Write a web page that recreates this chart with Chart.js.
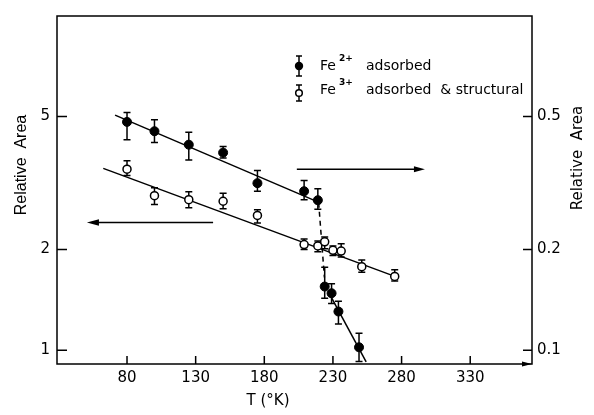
<!DOCTYPE html>
<html><head><meta charset="utf-8">
<script src="https://cdn.jsdelivr.net/npm/chart.js@4.4.1/dist/chart.umd.min.js"></script>
<style>html,body{margin:0;padding:0;background:#fff}</style>
</head><body>
<canvas id="c" width="594" height="415"></canvas>
<script>
// ---- tick labels ----
const xTicks = [80, 130, 180, 230, 280, 330];
const leftTicks = [1, 2, 5];
const leftTickLabels = ['1', '2', '5'];
const rightTicks = [0.1, 0.2, 0.5];
const rightTickLabels = ['0.1', '0.2', '0.5'];

// ---- Fe2+ adsorbed (right axis) ----
const fe2T    = [80, 100, 125, 150, 175, 209, 219, 224, 229, 234, 249];
const fe2Area = [0.482, 0.452, 0.412, 0.390, 0.316, 0.299, 0.281, 0.155, 0.148, 0.1305, 0.102];
const fe2High = [0.514, 0.489, 0.449, 0.407, 0.345, 0.322, 0.304, 0.177, 0.158, 0.140, 0.1124];
const fe2Low  = [0.426, 0.418, 0.371, 0.376, 0.299, 0.282, 0.264, 0.143, 0.138, 0.1198, 0.0924];

// ---- Fe3+ adsorbed & structural (left axis) ----
const fe3T    = [80, 100, 125, 150, 175, 209, 219, 224, 230, 236, 251, 275];
const fe3Area = [3.48, 2.90, 2.82, 2.79, 2.53, 2.07, 2.05, 2.11, 1.99, 1.98, 1.778, 1.662];
const fe3High = [3.69, 3.06, 2.98, 2.95, 2.63, 2.15, 2.12, 2.18, 2.05, 2.08, 1.86, 1.74];
const fe3Low  = [3.33, 2.73, 2.67, 2.65, 2.40, 2.00, 1.97, 2.01, 1.92, 1.90, 1.71, 1.61];

// ---- fitted lines ----
const fe2FitUpperT = [71.3, 220.7];
const fe2FitUpperV = [0.505, 0.276];
const fe2DashT = [219.6, 223.8];
const fe2DashV = [0.276, 0.165];
const fe2FitLowerT = [226.5, 254.2];
const fe2FitLowerV = [0.150, 0.0922];
const fe3FitT = [62.7, 276.6];
const fe3FitV = [3.50, 1.654];

const pts = (ts, vs) => ts.map((t, i) => ({x: t, y: vs[i]}));
const FONT = "'DejaVu Sans', sans-serif";

const overlay = {
  id: 'overlay',
  beforeDatasetsDraw(chart) {
    const ctx = chart.ctx, xs = chart.scales.x, yL = chart.scales.y, yR = chart.scales.yR;
    ctx.save();
    ctx.strokeStyle = '#000'; ctx.lineWidth = 1.5;
    const bar = (t, lo, hi, ys) => {
      const px = xs.getPixelForValue(t), p1 = ys.getPixelForValue(lo), p2 = ys.getPixelForValue(hi);
      ctx.beginPath();
      ctx.moveTo(px, p1); ctx.lineTo(px, p2);
      ctx.moveTo(px - 3.5, p1); ctx.lineTo(px + 3.5, p1);
      ctx.moveTo(px - 3.5, p2); ctx.lineTo(px + 3.5, p2);
      ctx.stroke();
    };
    fe2T.forEach((t, i) => bar(t, fe2Low[i], fe2High[i], yR));
    fe3T.forEach((t, i) => bar(t, fe3Low[i], fe3High[i], yL));
    ctx.restore();
  },
  afterDraw(chart) {
    const ctx = chart.ctx, a = chart.chartArea;
    const xs = chart.scales.x, yL = chart.scales.y, yR = chart.scales.yR;
    ctx.save();
    ctx.strokeStyle = '#000'; ctx.fillStyle = '#000'; ctx.lineWidth = 1.5;
    // frame
    ctx.strokeRect(a.left, a.top, a.right - a.left, a.bottom - a.top);
    // inward ticks
    ctx.beginPath();
    xTicks.forEach(v => { const p = xs.getPixelForValue(v); ctx.moveTo(p, a.bottom); ctx.lineTo(p, a.bottom - 8); });
    leftTicks.forEach(v => { const p = yL.getPixelForValue(v); ctx.moveTo(a.left, p); ctx.lineTo(a.left + 10, p); });
    rightTicks.forEach(v => { const p = yR.getPixelForValue(v); ctx.moveTo(a.right, p); ctx.lineTo(a.right - 9, p); });
    ctx.stroke();
    // arrowheads helper
    const head = (x, y, dir, len, hw) => {
      ctx.beginPath();
      ctx.moveTo(x, y); ctx.lineTo(x - dir * len, y - hw); ctx.lineTo(x - dir * len, y + hw); ctx.closePath(); ctx.fill();
    };
    // x-axis arrow
    head(a.right, a.bottom, 1, 10, 2.5);
    // right-pointing arrow (Fe2+ -> right axis)
    const ry = yL.getPixelForValue(3.48), rx1 = xs.getPixelForValue(203.7), rx2 = xs.getPixelForValue(297);
    ctx.beginPath(); ctx.moveTo(rx1, ry); ctx.lineTo(rx2 - 6, ry); ctx.stroke();
    head(rx2, ry, 1, 11, 3);
    // left-pointing arrow (Fe3+ -> left axis)
    const ly = yL.getPixelForValue(2.41), lx1 = xs.getPixelForValue(50.8), lx2 = xs.getPixelForValue(142.7);
    ctx.beginPath(); ctx.moveTo(lx1 + 6, ly); ctx.lineTo(lx2, ly); ctx.stroke();
    head(lx1, ly, -1, 12, 3.2);
    // axis titles
    ctx.textAlign = 'center'; ctx.textBaseline = 'middle';
    ctx.font = "16px 'Liberation Sans', sans-serif";
    ctx.save(); ctx.translate(22, 165); ctx.rotate(-Math.PI / 2); ctx.fillText('Relative  Area', 0, 0); ctx.restore();
    ctx.font = "15px " + FONT;
    ctx.save(); ctx.translate(578, 158); ctx.rotate(-Math.PI / 2); ctx.fillText('Relative  Area', 0, 0); ctx.restore();
    ctx.fillText('T (°K)', 268, 401);
    // legend
    const lx = 299;
    ctx.beginPath();
    ctx.moveTo(lx, 56); ctx.lineTo(lx, 76); ctx.moveTo(lx - 3, 56); ctx.lineTo(lx + 3, 56); ctx.moveTo(lx - 3, 76); ctx.lineTo(lx + 3, 76);
    ctx.moveTo(lx, 85); ctx.lineTo(lx, 101); ctx.moveTo(lx - 3, 85); ctx.lineTo(lx + 3, 85); ctx.moveTo(lx - 3, 101); ctx.lineTo(lx + 3, 101);
    ctx.stroke();
    ctx.beginPath(); ctx.arc(lx, 66, 4.2, 0, Math.PI * 2); ctx.fill();
    ctx.beginPath(); ctx.arc(lx, 93, 3.3, 0, Math.PI * 2); ctx.fillStyle = '#fff'; ctx.fill(); ctx.stroke();
    ctx.fillStyle = '#000';
    ctx.textAlign = 'left';
    ctx.font = "14px " + FONT;
    ctx.fillText('Fe', 320, 66); ctx.fillText('adsorbed', 366, 66);
    ctx.fillText('Fe', 320, 90); ctx.fillText('adsorbed  & structural', 366, 90);
    ctx.font = "bold 9px " + FONT;
    ctx.fillText('2+', 339, 59); ctx.fillText('3+', 339, 83);
    ctx.restore();
  }
};

new Chart(document.getElementById('c'), {
  type: 'scatter',
  data: {
    datasets: [
      {label: 'Fe2+ adsorbed', data: pts(fe2T, fe2Area), yAxisID: 'yR', order: 0,
       pointRadius: 4.5, pointBackgroundColor: '#000', pointBorderColor: '#000', pointBorderWidth: 1},
      {label: 'Fe3+ adsorbed & structural', data: pts(fe3T, fe3Area), yAxisID: 'y', order: 0,
       pointRadius: 4, pointBackgroundColor: '#fff', pointBorderColor: '#000', pointBorderWidth: 1.5},
      {type: 'line', data: pts(fe2FitUpperT, fe2FitUpperV), yAxisID: 'yR', order: 1,
       borderColor: '#000', borderWidth: 1.5, pointRadius: 0, fill: false},
      {type: 'line', data: pts(fe2DashT, fe2DashV), yAxisID: 'yR', order: 1,
       borderColor: '#000', borderWidth: 1.5, borderDash: [5, 4], pointRadius: 0, fill: false},
      {type: 'line', data: pts(fe2FitLowerT, fe2FitLowerV), yAxisID: 'yR', order: 1,
       borderColor: '#000', borderWidth: 1.5, pointRadius: 0, fill: false},
      {type: 'line', data: pts(fe3FitT, fe3FitV), yAxisID: 'y', order: 1,
       borderColor: '#000', borderWidth: 1.5, pointRadius: 0, fill: false}
    ]
  },
  options: {
    responsive: false, animation: false,
    layout: {padding: {top: 10, left: 0, right: 0, bottom: 0}},
    plugins: {legend: {display: false}, tooltip: {enabled: false}},
    scales: {
      x: {
        type: 'linear', min: 29, max: 375,
        grid: {display: false, drawTicks: false}, border: {display: false},
        afterBuildTicks: s => { s.ticks = xTicks.map(v => ({value: v})); },
        afterFit: s => { s.height = 51; },
        ticks: {padding: 5, color: '#000', font: {family: FONT, size: 15}, maxRotation: 0,
                callback: v => { const i = xTicks.indexOf(v); return i >= 0 ? String(xTicks[i]) : ''; }}
      },
      y: {
        type: 'logarithmic', position: 'left', min: 0.909, max: 10,
        grid: {display: false, drawTicks: false}, border: {display: false},
        afterBuildTicks: s => { s.ticks = leftTicks.map(v => ({value: v})); },
        afterFit: s => { s.width = 57; },
        ticks: {padding: 7, color: '#000', font: {family: FONT, size: 15},
                callback: v => { const i = leftTicks.indexOf(v); return i >= 0 ? leftTickLabels[i] : ''; }}
      },
      yR: {
        type: 'logarithmic', position: 'right', min: 0.0909, max: 1.0,
        grid: {display: false, drawTicks: false}, border: {display: false},
        afterBuildTicks: s => { s.ticks = rightTicks.map(v => ({value: v})); },
        afterFit: s => { s.width = 62; },
        ticks: {padding: 5, color: '#000', font: {family: FONT, size: 15},
                callback: v => { const i = rightTicks.indexOf(v); return i >= 0 ? rightTickLabels[i] : ''; }}
      }
    }
  },
  plugins: [overlay]
});
</script>
</body></html>
